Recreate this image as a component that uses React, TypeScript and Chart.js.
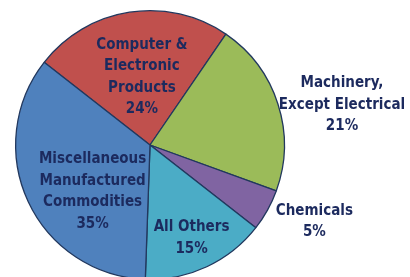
import React, { useEffect, useRef } from "react";
import { Chart, registerables } from "chart.js";

Chart.register(...registerables);

const categories = [
  ["Computer &", "Electronic", "Products"],
  ["Machinery,", "Except Electrical"],
  ["Chemicals"],
  ["All Others"],
  ["Miscellaneous", "Manufactured", "Commodities"],
];
const shares = [24, 21, 5, 15, 35];
const sliceColors = ["#C0504D", "#9BBB59", "#8064A2", "#4BACC6", "#4F81BD"];
// label placement: radius factor and angle offset (deg) from slice mid-angle
const labelRadius = [0.51, 1.46, 1.35, 0.76, 0.55];
const labelAngleOffset = [2, 6, -4, 1, -14];

const TEXT_COLOR = "#1C2A5E";
const FONT = "bold 15px 'Liberation Sans Narrow', 'DejaVu Sans Condensed', sans-serif";
const LINE_H = 21.5;

const labelPlugin = {
  id: "sliceLabels",
  afterDatasetsDraw(chart: any) {
    const ctx = chart.ctx;
    const meta = chart.getDatasetMeta(0);
    ctx.save();
    ctx.font = FONT;
    ctx.fillStyle = TEXT_COLOR;
    ctx.textAlign = "center";
    ctx.textBaseline = "middle";
    meta.data.forEach((arc: any, i: number) => {
      const p = arc.getProps(["x", "y", "startAngle", "endAngle", "outerRadius"], true);
      const mid = (p.startAngle + p.endAngle) / 2 + (labelAngleOffset[i] * Math.PI) / 180;
      const r = p.outerRadius * labelRadius[i];
      const cx = p.x + Math.cos(mid) * r;
      const cy = p.y + Math.sin(mid) * r;
      const lines = [...categories[i], shares[i] + "%"];
      const top = cy - ((lines.length - 1) * LINE_H) / 2;
      lines.forEach((t, k) => ctx.fillText(t, cx, top + k * LINE_H));
    });
    ctx.restore();
  },
};

export default function App() {
  const ref = useRef<HTMLCanvasElement | null>(null);
  useEffect(() => {
    document.body.style.margin = "0";
    const chart = new Chart(ref.current!, {
      type: "pie",
      data: {
        labels: categories.map((c) => c.join(" ")),
        datasets: [
          {
            data: shares,
            backgroundColor: sliceColors,
            borderColor: "#22385E",
            borderWidth: 1.3,
          },
        ],
      },
      options: {
        animation: false,
        responsive: false,
        rotation: -52,
        layout: { padding: { left: 15, right: 125, top: 10, bottom: 10 } },
        plugins: {
          legend: { display: false },
          tooltip: { enabled: false },
        },
      },
      plugins: [labelPlugin],
    });
    return () => chart.destroy();
  }, []);
  return (
    <div style={{ width: 410, height: 277, overflow: "hidden", background: "#fff" }}>
      <canvas ref={ref} width={410} height={290} style={{ display: "block" }} />
    </div>
  );
}
